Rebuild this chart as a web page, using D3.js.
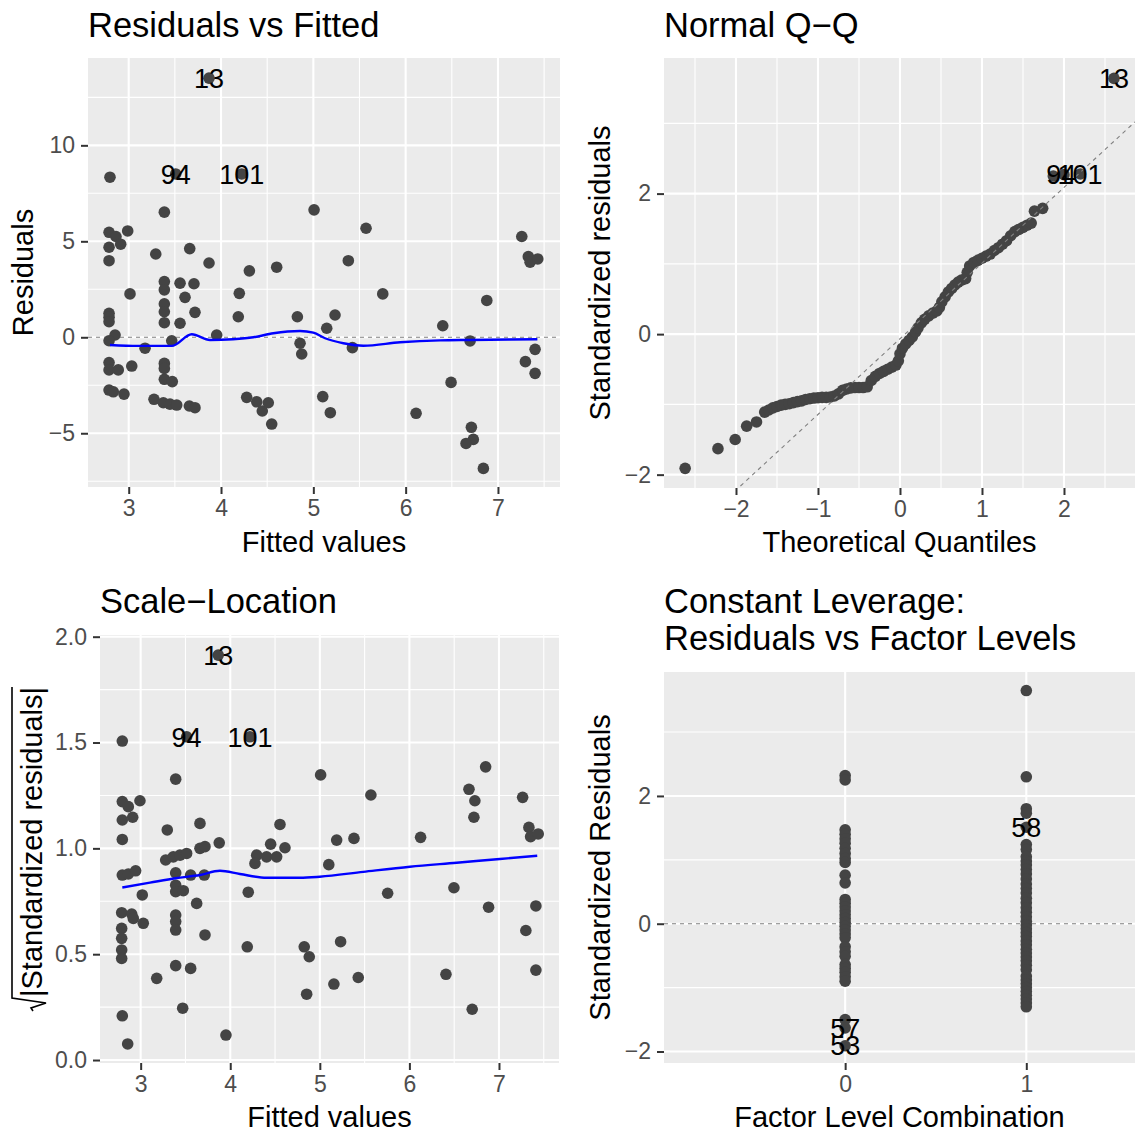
<!DOCTYPE html>
<html>
<head>
<meta charset="utf-8">
<script src="https://cdn.jsdelivr.net/npm/d3@7"></script>
<style>
  body { margin: 0; background: #ffffff; }
  text { font-family: "Liberation Sans", Arial, Helvetica, sans-serif; }
</style>
</head>
<body>
<script>
// ! Size of the whole figure
const width = 1136;
const height = 1133;

// ! Residuals vs Fitted: [fitted, residual]
const rvfPoints = [
  [3.870, 13.50], [2.797, 8.34], [3.509, 8.51], [4.224, 8.51], [3.386, 6.52], [5.008, 6.64],
  [2.787, 5.47], [2.862, 5.25], [2.989, 5.54], [2.787, 4.69], [2.913, 4.85], [2.787, 3.99],
  [3.293, 4.34], [3.661, 4.62], [3.870, 3.87], [4.307, 3.46], [4.603, 3.65], [3.386, 2.90],
  [3.556, 2.82], [3.707, 2.79], [3.386, 2.47], [3.014, 2.26], [4.198, 2.29], [3.610, 2.08],
  [5.571, 5.68], [5.379, 3.99], [7.258, 5.25], [7.329, 4.20], [7.348, 3.91], [7.431, 4.08],
  [5.752, 2.26], [6.879, 1.92], [3.386, 1.74], [3.386, 1.33], [3.718, 1.30], [2.787, 1.25],
  [2.787, 1.05], [2.787, 0.81], [3.556, 0.73], [3.386, 0.76], [4.187, 1.07], [4.827, 1.07],
  [2.852, 0.12], [3.953, 0.12], [2.787, -0.18], [3.466, -0.18], [3.177, -0.57], [4.856, -0.31],
  [4.874, -0.87], [5.145, 0.47], [5.235, 1.16], [5.423, -0.54], [2.787, -1.32], [2.787, -1.70],
  [2.887, -1.70], [3.033, -1.50], [3.386, -1.36], [3.386, -1.62], [3.386, -2.19], [3.472, -2.31],
  [2.787, -2.75], [2.833, -2.84], [2.949, -2.96], [3.274, -3.23], [3.375, -3.41], [3.447, -3.48],
  [3.520, -3.53], [3.657, -3.58], [3.718, -3.67], [4.278, -3.13], [4.387, -3.36], [4.447, -3.84],
  [4.512, -3.41], [4.549, -4.52], [5.102, -3.09], [5.184, -3.93], [6.402, 0.60], [6.698, -0.19],
  [7.402, -0.63], [7.297, -1.27], [7.402, -1.88], [6.492, -2.35], [6.113, -3.96], [6.712, -4.69],
  [6.733, -5.32], [6.654, -5.53], [6.842, -6.83]
];
const rvfSmooth = [
  [2.797, -0.40], [3.100, -0.45], [3.466, -0.45], [3.683, 0.16], [3.880, -0.14], [4.130, -0.10],
  [4.350, 0.00], [4.567, 0.21], [4.856, 0.33], [5.000, 0.24], [5.127, -0.05], [5.325, -0.31],
  [5.542, -0.44], [5.940, -0.26], [6.373, -0.16], [6.700, -0.14], [7.427, -0.10]
];
const rvfLabels = [["13", 3.870, 13.50], ["94", 3.509, 8.51], ["101", 4.224, 8.51]];

// ! Normal Q-Q: [theoretical quantile, standardized residual]
const qqPoints = [
  [-2.62, -1.91], [-2.22, -1.63], [-2.01, -1.50], [-1.87, -1.31], [-1.75, -1.25], [-1.65, -1.11],
  [-1.60, -1.08], [-1.55, -1.05], [-1.50, -1.03], [-1.45, -1.01], [-1.40, -1.00], [-1.35, -0.99],
  [-1.30, -0.975], [-1.25, -0.96], [-1.20, -0.95], [-1.15, -0.93], [-1.10, -0.92], [-1.05, -0.91],
  [-1.00, -0.905], [-0.95, -0.90], [-0.90, -0.90], [-0.85, -0.895], [-0.80, -0.88], [-0.75, -0.85],
  [-0.70, -0.80], [-0.65, -0.78], [-0.60, -0.765], [-0.55, -0.76], [-0.50, -0.76], [-0.45, -0.76],
  [-0.40, -0.75], [-0.35, -0.66], [-0.30, -0.60], [-0.25, -0.56], [-0.20, -0.53], [-0.15, -0.50],
  [-0.10, -0.47], [-0.05, -0.44], [-0.02, -0.38], [0.00, -0.28], [0.03, -0.20], [0.07, -0.14],
  [0.11, -0.09], [0.15, -0.04], [0.19, 0.03], [0.22, 0.09], [0.26, 0.16], [0.30, 0.21],
  [0.35, 0.26], [0.40, 0.30], [0.45, 0.33], [0.48, 0.38], [0.51, 0.46], [0.55, 0.53],
  [0.59, 0.60], [0.63, 0.65], [0.67, 0.70], [0.71, 0.74], [0.75, 0.77], [0.80, 0.79],
  [0.82, 0.88], [0.85, 0.97], [0.90, 1.02], [0.95, 1.05], [1.00, 1.08], [1.05, 1.11],
  [1.10, 1.14], [1.15, 1.19], [1.20, 1.23], [1.25, 1.28], [1.30, 1.33], [1.35, 1.40],
  [1.40, 1.46], [1.45, 1.49], [1.50, 1.52], [1.55, 1.55], [1.60, 1.58], [1.64, 1.75],
  [1.74, 1.79], [1.87, 2.25], [2.00, 2.27], [2.20, 2.28], [2.61, 3.64]
];
const qqLineIntercept = -0.066;
const qqLineSlope = 1.077;
const qqLabels = [["13", 2.61, 3.64], ["94", 1.967, 2.27], ["101", 2.195, 2.27]];

// ! Scale-Location: [fitted, sqrt(|standardized residual|)]
const slPoints = [
  [3.866, 1.913], [3.513, 1.527], [4.220, 1.527], [2.795, 1.507], [3.391, 1.327], [5.009, 1.347],
  [2.795, 1.221], [2.862, 1.197], [2.992, 1.225], [2.795, 1.134], [2.911, 1.147], [2.795, 1.042],
  [3.297, 1.087], [3.662, 1.118], [3.877, 1.026], [3.662, 1.000], [3.718, 1.008], [3.279, 0.945],
  [3.364, 0.960], [3.439, 0.968], [3.513, 0.976], [4.555, 1.113], [4.451, 1.020], [4.611, 1.003],
  [4.295, 0.968], [4.406, 0.960], [4.518, 0.960], [4.276, 0.929], [5.100, 0.923], [5.570, 1.252],
  [5.188, 1.039], [5.381, 1.047], [6.125, 1.052], [6.851, 1.385], [6.665, 1.279], [6.731, 1.225],
  [6.720, 1.147], [7.264, 1.241], [7.334, 1.099], [7.353, 1.055], [7.438, 1.068], [2.795, 0.874],
  [2.862, 0.879], [2.944, 0.894], [3.018, 0.780], [3.391, 0.884], [3.558, 0.874], [3.710, 0.874],
  [3.391, 0.826], [3.391, 0.795], [3.476, 0.800], [3.625, 0.740], [2.788, 0.696], [2.900, 0.690],
  [2.918, 0.669], [2.788, 0.622], [2.788, 0.575], [3.029, 0.646], [3.391, 0.685], [3.391, 0.654],
  [3.391, 0.614], [3.718, 0.591], [2.788, 0.520], [2.788, 0.480], [3.179, 0.386], [3.391, 0.446],
  [3.558, 0.433], [3.469, 0.245], [2.795, 0.209], [2.855, 0.076], [3.952, 0.118], [4.201, 0.793],
  [4.190, 0.535], [4.826, 0.535], [4.882, 0.488], [4.853, 0.311], [5.757, 0.788], [6.497, 0.814],
  [6.884, 0.722], [7.412, 0.728], [7.300, 0.612], [7.412, 0.425], [5.232, 0.559], [5.157, 0.359],
  [5.429, 0.390], [6.408, 0.405], [6.701, 0.240]
];
const slSmooth = [
  [2.795, 0.815], [3.104, 0.838], [3.391, 0.859], [3.662, 0.874], [3.885, 0.894], [4.108, 0.879],
  [4.406, 0.861], [4.778, 0.861], [5.000, 0.866], [5.485, 0.889], [6.006, 0.913], [6.527, 0.932],
  [7.010, 0.950], [7.427, 0.965]
];
const slLabels = [["13", 3.866, 1.913], ["94", 3.513, 1.527], ["101", 4.220, 1.527]];

// ! Constant Leverage: standardized residuals per factor level
const levelTicks = [0, 1];
const level0Resid = [
  2.32, 2.25, 1.47, 1.40, 1.33, 1.26, 1.18, 1.10, 1.02, 0.96, 0.76, 0.64, 0.38, 0.32, 0.26, 0.20,
  0.14, 0.08, 0.02, -0.04, -0.10, -0.16, -0.22, -0.36, -0.44, -0.51, -0.64, -0.70, -0.76, -0.83,
  -0.90, -1.50, -1.63, -1.91
];
const level1Resid = [
  3.65, 2.30, 1.80, 1.73, 1.51, 1.24, 1.16, 1.05, 0.98, 0.92, 0.85, 0.78, 0.70, 0.62, 0.55, 0.48,
  0.40, 0.33, 0.25, 0.18, 0.11, 0.04, -0.02, -0.08, -0.14, -0.20, -0.27, -0.33, -0.40, -0.46,
  -0.52, -0.58, -0.65, -0.72, -0.82, -0.88, -0.94, -1.00, -1.06, -1.12, -1.18, -1.24, -1.30
];
const flLabels = [["58", 1, 1.51], ["57", 0, -1.63], ["53", 0, -1.91]];

// ! SVG container
const svg = d3
  .select("body")
  .append("svg")
  .attr("width", width)
  .attr("height", height)
  .style("background-color", "white");

const pointColor = "#444444";
const tickFont = 23;
const titleFont = 34.5;
const axisTitleFont = 29;
const labelFont = 27;

// ! Draws background, grid and axes of one panel, returns scales and a clipped layer
const makePanel = (o) => {
  const x = d3.scaleLinear().domain(o.xDomain).range([o.left, o.right]);
  const y = d3.scaleLinear().domain(o.yDomain).range([o.bottom, o.top]);
  const g = svg.append("g");

  svg
    .append("clipPath")
    .attr("id", "clip-" + o.id)
    .append("rect")
    .attr("x", o.left)
    .attr("y", o.top)
    .attr("width", o.right - o.left)
    .attr("height", o.bottom - o.top);

  g.append("rect")
    .attr("x", o.left)
    .attr("y", o.top)
    .attr("width", o.right - o.left)
    .attr("height", o.bottom - o.top)
    .attr("fill", "#EBEBEB");

  const grid = (vals, vertical, w) => {
    g.selectAll(null)
      .data(vals)
      .enter()
      .append("line")
      .attr("x1", (d) => (vertical ? x(d) : o.left))
      .attr("x2", (d) => (vertical ? x(d) : o.right))
      .attr("y1", (d) => (vertical ? o.top : y(d)))
      .attr("y2", (d) => (vertical ? o.bottom : y(d)))
      .attr("stroke", "white")
      .attr("stroke-width", w);
  };
  grid(o.xMinor, true, 1.1);
  grid(o.yMinor, false, 1.1);
  grid(o.xMajor, true, 2.1);
  grid(o.yMajor, false, 2.1);

  const xAxisG = g
    .append("g")
    .attr("transform", `translate(0, ${o.bottom})`)
    .call(d3.axisBottom(x).tickValues(o.xMajor).tickSize(7).tickPadding(6).tickFormat(o.xFormat));
  const yAxisG = g
    .append("g")
    .attr("transform", `translate(${o.left}, 0)`)
    .call(d3.axisLeft(y).tickValues(o.yMajor).tickSize(7).tickPadding(6).tickFormat(o.yFormat));

  [xAxisG, yAxisG].forEach((a) => {
    a.select(".domain").remove();
    a.selectAll(".tick line").attr("stroke", "#333333").attr("stroke-width", 2);
    a.selectAll(".tick text")
      .attr("fill", "#4D4D4D")
      .style("font-size", tickFont + "px")
      .style("font-family", '"Liberation Sans", Arial, sans-serif');
  });

  // ! Titles
  o.title.forEach((t, i) => {
    svg
      .append("text")
      .attr("x", o.left)
      .attr("y", o.titleY + i * 37)
      .style("font-size", titleFont + "px")
      .attr("fill", "black")
      .text(t);
  });
  svg
    .append("text")
    .attr("x", (o.left + o.right) / 2)
    .attr("y", o.xTitleY)
    .attr("text-anchor", "middle")
    .style("font-size", axisTitleFont + "px")
    .text(o.xTitle);
  if (o.yTitle) {
    svg
      .append("text")
      .attr("transform", `translate(${o.yTitleX}, ${(o.top + o.bottom) / 2}) rotate(-90)`)
      .attr("text-anchor", "middle")
      .style("font-size", axisTitleFont + "px")
      .text(o.yTitle);
  }

  const layer = g.append("g").attr("clip-path", `url(#clip-${o.id})`);
  return { x, y, layer };
};

const drawPoints = (p, data) => {
  p.layer
    .selectAll(null)
    .data(data)
    .enter()
    .append("circle")
    .attr("cx", (d) => p.x(d[0]))
    .attr("cy", (d) => p.y(d[1]))
    .attr("r", 5.8)
    .attr("fill", pointColor);
};

const drawLabels = (p, labels) => {
  p.layer
    .selectAll(null)
    .data(labels)
    .enter()
    .append("text")
    .attr("x", (d) => p.x(d[1]))
    .attr("y", (d) => p.y(d[2]))
    .attr("dy", "0.36em")
    .attr("text-anchor", "middle")
    .style("font-size", labelFont + "px")
    .attr("fill", "black")
    .text((d) => d[0]);
};

const dashed = (p, x1, y1, x2, y2) => {
  p.layer
    .append("line")
    .attr("x1", p.x(x1))
    .attr("y1", p.y(y1))
    .attr("x2", p.x(x2))
    .attr("y2", p.y(y2))
    .attr("stroke", "#808080")
    .attr("stroke-width", 1.1)
    .attr("stroke-dasharray", "4,4");
};

const smooth = (p, data) => {
  p.layer
    .append("path")
    .datum(data)
    .attr("fill", "none")
    .attr("stroke", "#0000FF")
    .attr("stroke-width", 2.4)
    .attr(
      "d",
      d3.line().x((d) => p.x(d[0])).y((d) => p.y(d[1])).curve(d3.curveMonotoneX)
    );
};

const intFmt = d3.format("d");

// ! Panel 1: Residuals vs Fitted
const p1 = makePanel({
  id: "rvf", left: 88, right: 560, top: 58, bottom: 487,
  xDomain: [2.559, 7.672], yDomain: [-7.8, 14.55],
  xMajor: [3, 4, 5, 6, 7], xMinor: [3.5, 4.5, 5.5, 6.5, 7.5],
  yMajor: [-5, 0, 5, 10], yMinor: [-7.5, -2.5, 2.5, 7.5, 12.5],
  xFormat: intFmt, yFormat: intFmt,
  title: ["Residuals vs Fitted"], titleY: 37,
  xTitle: "Fitted values", xTitleY: 552,
  yTitle: "Residuals", yTitleX: 33
});
dashed(p1, 2.559, 0, 7.672, 0);
drawPoints(p1, rvfPoints);
smooth(p1, rvfSmooth);
drawLabels(p1, rvfLabels);

// ! Panel 2: Normal Q-Q
const p2 = makePanel({
  id: "qq", left: 664, right: 1135, top: 58, bottom: 488,
  xDomain: [-2.878, 2.866], yDomain: [-2.19, 3.93],
  xMajor: [-2, -1, 0, 1, 2], xMinor: [-2.5, -1.5, -0.5, 0.5, 1.5, 2.5],
  yMajor: [-2, 0, 2], yMinor: [-1, 1, 3],
  xFormat: intFmt, yFormat: intFmt,
  title: ["Normal Q\u2212Q"], titleY: 37,
  xTitle: "Theoretical Quantiles", xTitleY: 552,
  yTitle: "Standardized residuals", yTitleX: 610
});
drawPoints(p2, qqPoints);
dashed(p2, -2.878, qqLineIntercept + qqLineSlope * -2.878, 2.866, qqLineIntercept + qqLineSlope * 2.866);
drawLabels(p2, qqLabels);

// ! Panel 3: Scale-Location
const p3 = makePanel({
  id: "sl", left: 100, right: 559, top: 635, bottom: 1063,
  xDomain: [2.546, 7.67], yDomain: [-0.014, 2.008],
  xMajor: [3, 4, 5, 6, 7], xMinor: [3.5, 4.5, 5.5, 6.5, 7.5],
  yMajor: [0, 0.5, 1, 1.5, 2], yMinor: [0.25, 0.75, 1.25, 1.75],
  xFormat: intFmt, yFormat: d3.format(".1f"),
  title: ["Scale\u2212Location"], titleY: 613,
  xTitle: "Fitted values", xTitleY: 1127,
  yTitle: null
});
drawPoints(p3, slPoints);
smooth(p3, slSmooth);
drawLabels(p3, slLabels);

// ! sqrt(|Standardized residuals|) title with radical and overline
const slTitle = svg
  .append("g")
  .attr("transform", `translate(42, ${(635 + 1063) / 2}) rotate(-90)`);
const slText = slTitle
  .append("text")
  .style("font-size", axisTitleFont + "px")
  .text("|Standardized residuals|");
const textLen = slText.node().getComputedTextLength();
const total = textLen + 14;
slText.attr("x", -total / 2 + 14);
slTitle
  .append("path")
  .attr(
    "d",
    `M${-total / 2},-9 L${-total / 2 + 3},-11 L${-total / 2 + 8},4 L${-total / 2 + 13},-30 L${total / 2},-30`
  )
  .attr("fill", "none")
  .attr("stroke", "black")
  .attr("stroke-width", 1.6);

// ! Panel 4: Constant Leverage
const p4 = makePanel({
  id: "fl", left: 664, right: 1135, top: 672, bottom: 1063,
  xDomain: [-1, 1.6], yDomain: [-2.18, 3.94],
  xMajor: levelTicks, xMinor: [],
  yMajor: [-2, 0, 2], yMinor: [-1, 1, 3],
  xFormat: intFmt, yFormat: intFmt,
  title: ["Constant Leverage:", "Residuals vs Factor Levels"], titleY: 613,
  xTitle: "Factor Level Combination", xTitleY: 1127,
  yTitle: "Standardized Residuals", yTitleX: 610
});
dashed(p4, -1, 0, 1.6, 0);
drawPoints(p4, level0Resid.map((v) => [levelTicks[0], v]));
drawPoints(p4, level1Resid.map((v) => [levelTicks[1], v]));
drawLabels(p4, flLabels);
</script>
</body>
</html>
